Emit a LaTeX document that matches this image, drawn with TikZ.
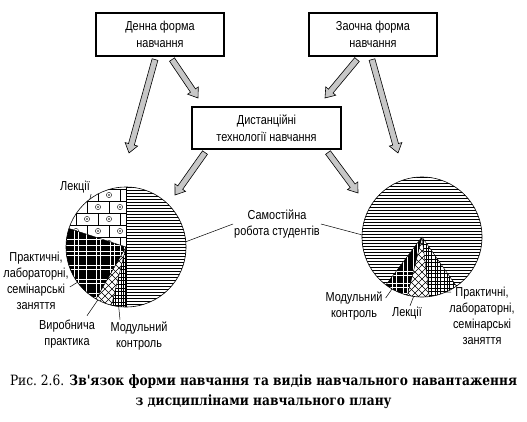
\documentclass[tikz,border=0pt]{standalone}
\usepackage{fontspec}
\usetikzlibrary{calc}
\newfontfamily\lblfont[FakeStretch=0.84]{Liberation Sans}
\newfontfamily\capfont[FakeStretch=0.86]{DejaVu Serif}
% hollow block arrow from #1 to #2
\newcommand{\blkarrow}[2]{%
 \draw[blk] let \p1=($(#2)-(#1)$), \n1={atan2(\y1,\x1)}, \n2={veclen(\x1,\y1)} in
  [shift={(#1)},rotate=\n1] (0,-3) -- (\n2-9,-3) -- (\n2-9,-6.5) -- (\n2,0) -- (\n2-9,6.5) -- (\n2-9,3) -- (0,3) -- cycle;}

\begin{document}
\begin{tikzpicture}[x=1pt,y=1pt,
 box/.style={draw,line width=1.1pt,minimum width=128pt,minimum height=43pt,inner sep=0pt,align=center,font={\lblfont\fontsize{13}{17.5}\selectfont}},
 lbl/.style={align=center,inner sep=1pt,font={\lblfont\fontsize{13}{16}\selectfont}},
 captext/.style={align=center,inner sep=0pt,font={\capfont\fontsize{14.2}{20}\selectfont}},
 blk/.style={draw,line width=0.6pt,fill=black!22},
 ptr/.style={line width=0.5pt},
 hl/.style={line width=0.45pt},
 fine/.style={line width=0.4pt},
 plaid/.style={white,line width=0.8pt}]
 \useasboundingbox (0,0) rectangle (527,421);
 \node[box] (day) at (160,386.5) {Денна форма\\ навчання};
 \node[box] (extra) at (373,386.5) {Заочна форма\\ навчання};
 \node[box,minimum width=149pt,minimum height=42pt] (dist) at (266.5,293) {Дистанційні\\ технології навчання};
 \coordinate (lc) at (126,174); \coordinate (rc) at (422,184);
 % block arrows
 \coordinate (s1) at ($(day.south)+(-5,-3)$); \coordinate (t1) at (129,268);
 \coordinate (s2) at ($(day.south)+(12,-3)$); \coordinate (t2) at (198,323);
 \coordinate (s3) at ($(extra.south)+(-16,-3)$); \coordinate (t3) at (325,323);
 \coordinate (s4) at ($(extra.south)+(-1,-3)$); \coordinate (t4) at (398,268);
 \coordinate (s5) at ($(dist.south)+(-61.5,-3)$); \coordinate (t5) at (175,226);
 \coordinate (s6) at ($(dist.south)+(61.5,-3)$); \coordinate (t6) at (358,228);
 \blkarrow{s1}{t1} \blkarrow{s2}{t2} \blkarrow{s3}{t3}
 \blkarrow{s4}{t4} \blkarrow{s5}{t5} \blkarrow{s6}{t6}
 % left pie
 \begin{scope}
  \clip (lc) -- ++(-90:60) arc[start angle=-90,end angle=90,radius=60] -- cycle;
  \foreach \yy in {-60,-57,...,60} \draw[hl] ($(lc)+(-2,\yy)$) -- ++(64,0);
 \end{scope}
 \begin{scope}
  \clip (lc) -- ++(90:60) arc[start angle=90,end angle=162,radius=60] -- cycle;
  \foreach \k in {0,...,5}{
   \pgfmathsetmacro\yc{52-12*\k}
   \pgfmathsetmacro\xo{-17-11*mod(\k,2)}
   \draw[fine] ($(lc)+(-65,\yc+6)$) -- ++(66,0);
   \foreach \m in {-3,...,1}{
    \draw[fine] ($(lc)+(\xo+22*\m,\yc)$) circle (2.6);
    \fill ($(lc)+(\xo+22*\m,\yc)$) circle (0.9);
    \draw[fine] ($(lc)+(\xo+22*\m+11,\yc-6)$) -- ++(0,12);
   }
  }
 \end{scope}
 \begin{scope}
  \clip (lc) -- ++(162:60) arc[start angle=162,end angle=240,radius=60] -- cycle;
  \fill (lc) circle (61);
  \foreach \xx in {-52,-48,-40,-30,-26,-16,-12,-6,-2} \draw[plaid] ($(lc)+(\xx,-60)$) -- ++(0,80);
  \foreach \yy in {8,2,-4,-8,-18,-22,-32,-36,-46,-50} \draw[plaid] ($(lc)+(-62,\yy)$) -- ++(64,0);
 \end{scope}
 \begin{scope}
  \clip (lc) -- ++(240:60) arc[start angle=240,end angle=256,radius=60] -- cycle;
  \foreach \d in {-70,-63,...,70}{
   \draw[fine] ($(lc)+(\d-35,-70)$) -- ++(75,75);
   \draw[fine] ($(lc)+(\d+35,-70)$) -- ++(-75,75);}
 \end{scope}
 \begin{scope}
  \clip (lc) -- ++(256:60) arc[start angle=256,end angle=270,radius=60] -- cycle;
  \foreach \xx in {-16,-13,-11,-8,-5,-3,-1} \draw[fine] ($(lc)+(\xx,-62)$) -- ++(0,62);
  \foreach \yy in {-58,-55,-51,-48,-44,-41,-37,-33,-30,-26,-22,-19,-15,-11,-7,-4} \draw[fine] ($(lc)+(-20,\yy)$) -- ++(20,0);
 \end{scope}
 \foreach \a in {90,162,240,256,270} \draw[fine] (lc) -- ++(\a:60);
 \draw[line width=0.6pt] (lc) circle (60);
 % right pie
 \begin{scope}
  \clip (rc) -- ++(-55:60) arc[start angle=-55,end angle=233,radius=60] -- cycle;
  \foreach \yy in {-60,-57,...,60} \draw[hl] ($(rc)+(-62,\yy)$) -- ++(124,0);
 \end{scope}
 \begin{scope}
  \clip (rc) -- ++(233:60) arc[start angle=233,end angle=256,radius=60] -- cycle;
  \fill (rc) circle (61);
  \foreach \xx in {-30,-26,-19,-15,-9,-5} \draw[plaid] ($(rc)+(\xx,-62)$) -- ++(0,62);
  \foreach \yy in {-34,-38,-46,-50,-56} \draw[plaid] ($(rc)+(-40,\yy)$) -- ++(40,0);
 \end{scope}
 \begin{scope}
  \clip (rc) -- ++(256:60) arc[start angle=256,end angle=277,radius=60] -- cycle;
  \foreach \d in {-70,-63,...,70}{
   \draw[fine] ($(rc)+(\d-35,-70)$) -- ++(75,75);
   \draw[fine] ($(rc)+(\d+35,-70)$) -- ++(-75,75);}
 \end{scope}
 \begin{scope}
  \clip (rc) -- ++(277:60) arc[start angle=277,end angle=305,radius=60] -- cycle;
  \foreach \xx in {1,4,6,9,13,15,18,22,25,27,31,34} \draw[fine] ($(rc)+(\xx,-62)$) -- ++(0,62);
  \foreach \yy in {-58,-54,-51,-47,-44,-40,-36,-33,-29,-25,-22,-18,-14,-11,-7,-3} \draw[fine] ($(rc)+(0,\yy)$) -- ++(40,0);
 \end{scope}
 \foreach \a in {233,256,277,305} \draw[fine] (rc) -- ++(\a:60);
 \draw[line width=0.6pt] (rc) circle (60);
 % labels
 \node[lbl] (llec) at (75,234) {Лекції};
 \node[lbl] (lprac) at (36,140) {Практичні,\\ лабораторні,\\ семінарські\\ заняття};
 \node[lbl] (lprod) at (67,87) {Виробнича\\ практика};
 \node[lbl] (lmod) at (139,85) {Модульний\\ контроль};
 \node[lbl] (self) at (277,197) {Самостійна\\ робота студентів};
 \node[lbl] (rmod) at (354,115) {Модульний\\ контроль};
 \node[lbl] (rlec) at (407,108) {Лекції};
 \node[lbl] (rprac) at (482,105) {Практичні,\\ лабораторні,\\ семінарські\\ заняття};
 \draw[ptr] (llec.south east) -- ($(lc)+(127:60)$);
 \draw[ptr] ($(lprac.east)+(0,-6)$) -- ($(lc)+(216:60)$);
 \draw[ptr] ($(lprod.north)+(20,3)$) -- ($(lc)+(242:60)$);
 \draw[ptr] ($(lmod.north)+(-19,1)$) -- ($(lc)+(263:60)$);
 \draw[ptr] (self.west) -- ($(lc)+(5:60)$);
 \draw[ptr] (self.east) -- ($(rc)+(178:60)$);
 \draw[ptr] ($(rmod.east)+(2,8)$) -- ($(rc)+(240:60)$);
 \draw[ptr] ($(rlec.north)+(3,0)$) -- ($(rc)+(262:60)$);
 \draw[ptr] ($(rprac.north west)+(3,-6)$) -- ($(rc)+(293:60)$);
 \node[captext] (caption) at (263.5,29) {Рис.~2.6. \textbf{Зв'язок форми навчання та видів навчального навантаження}\\ \textbf{з дисциплінами навчального плану}};
\end{tikzpicture}
\end{document}
